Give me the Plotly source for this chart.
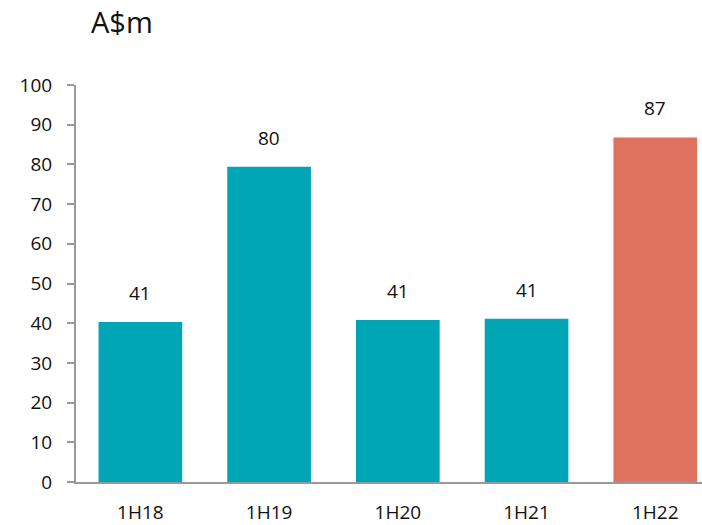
import plotly.graph_objects as go

categories = ["1H18", "1H19", "1H20", "1H21", "1H22"]
values = [40.3, 79.4, 40.8, 41.1, 86.8]
labels = ["41", "80", "41", "41", "87"]
colors = ["#00A6B5", "#00A6B5", "#00A6B5", "#00A6B5", "#DE725F"]
y_ticks = [0, 10, 20, 30, 40, 50, 60, 70, 80, 90, 100]

FONT = "Open Sans"
FS = 19

fig = go.Figure()
fig.add_trace(go.Bar(
    x=categories, y=values, marker=dict(color=colors, line=dict(width=0)),
    width=0.65, hoverinfo="skip",
))
for c, v, t in zip(categories, values, labels):
    fig.add_annotation(x=c, y=v, text=t, showarrow=False, yanchor="bottom",
                       yshift=14, font=dict(family=FONT, size=FS, color="#111"))

fig.add_annotation(text="A$m", xref="paper", yref="paper", x=0.02, y=1.0,
                   yshift=42, xanchor="left", yanchor="bottom", showarrow=False,
                   font=dict(family=FONT, size=29, color="#111"))

fig.update_layout(
    width=702, height=525, margin=dict(l=76, r=0, t=85, b=43, autoexpand=False),
    plot_bgcolor="white", paper_bgcolor="white", showlegend=False,
    font=dict(family=FONT, size=FS, color="#111"),
)
fig.update_xaxes(range=[-0.5, 4.363], showline=True, linecolor="#999", linewidth=2,
                 ticks="", ticklabelstandoff=12, showgrid=False, automargin=False,
                 tickfont=dict(family=FONT, size=FS))
fig.update_yaxes(range=[0, 100], tickvals=y_ticks, showline=True, linecolor="#999",
                 linewidth=2, ticks="outside", ticklen=7, tickcolor="#999", tickwidth=2,
                 ticklabelstandoff=11, showgrid=False, zeroline=False, automargin=False,
                 tickfont=dict(family=FONT, size=FS))
fig.write_html("out.html")
